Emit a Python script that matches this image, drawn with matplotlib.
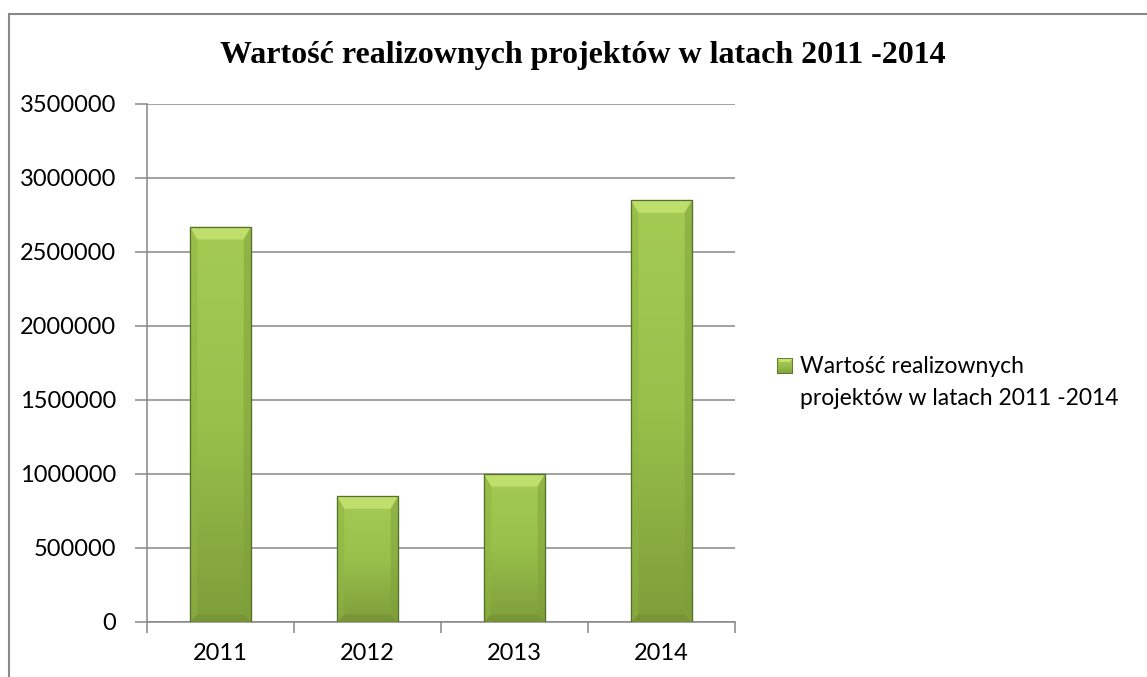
import matplotlib.pyplot as plt
from matplotlib.patches import Rectangle, Polygon
from matplotlib.colors import LinearSegmentedColormap
import numpy as np

years = ['2011', '2012', '2013', '2014']
values = [2670000, 850000, 1000000, 2850000]
series_name = 'Wartość realizownych\nprojektów w latach 2011 -2014'
title = 'Wartość realizownych projektów w latach 2011 -2014'

W, H = 1147, 677
fig = plt.figure(figsize=(W / 100, H / 100), dpi=100)
ax = fig.add_axes([147 / W, 55 / H, 588 / W, 518 / H])

grid_col = '#878787'
label_font = 'Lato'

# bars, filled later with a gradient
bars = ax.bar(np.arange(len(years)), values, width=0.415,
              facecolor='#95bd48', edgecolor='#55702a', linewidth=0.8, zorder=3)

# vertical gradient inside each bar
grad = np.linspace(0, 1, 256).reshape(-1, 1)
cmap = LinearSegmentedColormap.from_list('g', ['#a5cb53', '#98c04a', '#7f9e3b'])
for b in bars:
    x0, w, h = b.get_x(), b.get_width(), b.get_height()
    im = ax.imshow(grad, cmap=cmap, aspect='auto', extent=[x0, x0 + w, 0, h],
                   origin='upper', zorder=3.1, interpolation='bicubic')
    im.set_clip_path(b)
    dx = w * 0.12
    dy = 85000
    # top bevel
    ax.add_patch(Polygon([(x0, h), (x0 + w, h), (x0 + w - dx, h - dy), (x0 + dx, h - dy)],
                         closed=True, facecolor='#c4e372', edgecolor='none', alpha=0.85, zorder=3.2))
    # side shading
    ax.add_patch(Polygon([(x0, h), (x0 + dx, h - dy), (x0 + dx, dy * 0.6), (x0, 0)],
                         closed=True, facecolor='#8fb443', edgecolor='none', alpha=0.5, zorder=3.2))
    ax.add_patch(Polygon([(x0 + w, h), (x0 + w - dx, h - dy), (x0 + w - dx, dy * 0.6), (x0 + w, 0)],
                         closed=True, facecolor='#7f9f3a', edgecolor='none', alpha=0.5, zorder=3.2))
    # bottom bevel
    ax.add_patch(Polygon([(x0, 0), (x0 + w, 0), (x0 + w - dx, dy * 0.6), (x0 + dx, dy * 0.6)],
                         closed=True, facecolor='#6f8c32', edgecolor='none', alpha=0.45, zorder=3.2))
    ax.add_patch(Rectangle((x0, 0), w, h, facecolor='none', edgecolor='#55702a',
                           linewidth=0.9, zorder=3.3))

ax.set_xlim(-0.5, len(years) - 0.5)
ax.set_ylim(0, 3500000)
yt = np.arange(0, 3500001, 500000)
ax.set_yticks(yt)
ax.set_yticklabels([f'{int(v)}' for v in yt], fontfamily=label_font, fontsize=17)
ax.yaxis.grid(True, color=grid_col, linewidth=1.1, zorder=0)
ax.set_axisbelow(True)

# category ticks at boundaries, labels at centres
ax.set_xticks(np.arange(-0.5, len(years)))
ax.set_xticklabels([])
ax.set_xticks(np.arange(len(years)), minor=True)
ax.set_xticklabels(years, minor=True, fontfamily=label_font, fontsize=17)
ax.tick_params(axis='x', which='major', direction='out', length=8, width=1.1, color=grid_col)
ax.tick_params(axis='x', which='minor', length=0, pad=15)
ax.tick_params(axis='y', direction='out', length=9, width=1.1, color=grid_col, pad=13)

for s in ['top', 'right']:
    ax.spines[s].set_visible(False)
for s in ['left', 'bottom']:
    ax.spines[s].set_color(grid_col)
    ax.spines[s].set_linewidth(1.1)

fig.text(583 / W, 1 - 63 / H, title, fontfamily='Liberation Serif', fontweight='bold',
         fontsize=23, ha='center', va='baseline')

# legend drawn by hand so the marker sits on the first line
lg = fig.add_axes([777 / W, 1 - 374 / H, 16 / W, 16 / H])
lg.imshow(grad, cmap=cmap, aspect='auto', extent=[0, 1, 0, 1])
lg.add_patch(Polygon([(0, 1), (1, 1), (0.8, 0.75), (0.2, 0.75)], closed=True,
                     facecolor='#c4e372', edgecolor='none'))
lg.add_patch(Rectangle((0, 0), 1, 1, facecolor='none', edgecolor='#55702a', linewidth=1.2))
lg.set_xlim(0, 1)
lg.set_ylim(0, 1)
lg.axis('off')
fig.text(800 / W, 1 - 356 / H, series_name, fontfamily=label_font, fontsize=16.5,
         ha='left', va='top', linespacing=1.66)

# outer chart frame (right and bottom edges fall outside the picture)
fig.add_artist(Rectangle((9 / W, -0.05), 1.2, 1 - 14 / H + 0.05, transform=fig.transFigure,
                         facecolor='none', edgecolor='#888888', linewidth=1.5))

fig.savefig('out.png', dpi=100)
